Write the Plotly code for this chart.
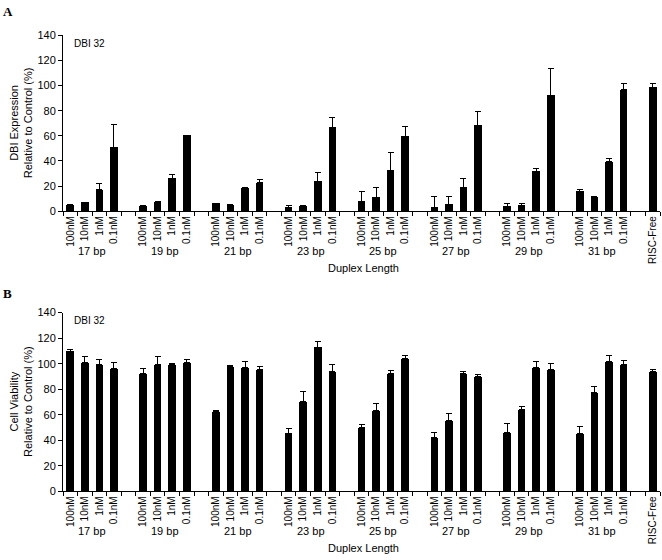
import plotly.graph_objects as go

groups = ["17 bp", "19 bp", "21 bp", "23 bp", "25 bp", "27 bp", "29 bp", "31 bp"]
concs = ["100nM", "10nM", "1nM", "0.1nM"]
control_label = "RISC-Free"

# Panel A: DBI expression (%), per group: [100nM, 10nM, 1nM, 0.1nM]
expr_vals = [
    [5, 7, 17, 51],
    [4, 7, 26, 60],
    [6, 5, 18.5, 22.5],
    [2.9, 3.7, 23.7, 66.8],
    [8.1, 10.9, 32.5, 59.8],
    [3, 5.5, 19.2, 68.3],
    [3.6, 4.4, 31.7, 92.5],
    [15.6, 10.9, 39.2, 96.6],
]
expr_err = [
    [0.3, 0.3, 5, 18],
    [0.3, 0.4, 3.5, 0.2],
    [0.3, 0.3, 0.6, 2.6],
    [1.8, 1.0, 7.0, 7.5],
    [7.3, 7.6, 14, 7.5],
    [8.7, 5.9, 6.8, 10.7],
    [2.6, 2.1, 2.3, 21.3],
    [1.4, 0.8, 2.6, 5.0],
]
expr_ctrl = 98.7
expr_ctrl_err = 2.9

# Panel B: cell viability (%)
viab_vals = [
    [109.9, 101, 99, 96],
    [92, 99.6, 99, 101],
    [62.3, 97.8, 97.3, 95.3],
    [45.7, 70.3, 113, 94],
    [49.8, 63.1, 92, 104],
    [42.2, 55.7, 92, 89.7],
    [46.2, 64.4, 97.3, 95.6],
    [45.5, 77.7, 101.7, 99.6],
]
viab_err = [
    [1.1, 4.5, 4.5, 4.7],
    [4.6, 6.4, 0.9, 2.5],
    [0.7, 0.6, 4.4, 2.5],
    [3.3, 7.7, 4, 5.6],
    [2.6, 5.4, 2.8, 2.3],
    [3.8, 5.3, 2, 1.8],
    [6.7, 1.8, 4.4, 4.6],
    [5.5, 4.1, 4.6, 3.1],
]
viab_ctrl = 94
viab_ctrl_err = 1.6

W, H = 662, 560
FONT = "Liberation Sans, Arial, sans-serif"

# slot layout: 4 bars per group + 1 empty slot; control after last gap
xs, labels = [], []
group_centers = []
slot = 0
for g in groups:
    gx = []
    for c in concs:
        xs.append(slot)
        labels.append(c)
        gx.append(slot)
        slot += 1
    group_centers.append(sum(gx) / len(gx))
    slot += 1
ctrl_x = slot
xs_all = xs + [ctrl_x]
labels_all = labels + [control_label]
nslots = ctrl_x + 1


def flat(v):
    return [a for row in v for a in row]


fig = go.Figure()

panels = [
    dict(vals=expr_vals, err=expr_err, ctrl=expr_ctrl, cerr=expr_ctrl_err,
         xa="x", ya="y", dom=[1 - 209.7 / H, 1 - 30 / H],
         ytitle=["DBI Expression", "Relative to Control (%)"], letter="A",
         letter_y=6, grp_y=250.5, dl_y=268),
    dict(vals=viab_vals, err=viab_err, ctrl=viab_ctrl, cerr=viab_ctrl_err,
         xa="x2", ya="y2", dom=[1 - 496 / H, 1 - 313.3 / H],
         ytitle=["Cell Viability", "Relative to Control (%)"], letter="B",
         letter_y=294, grp_y=537, dl_y=554),
]

xdom = [63 / W, 660 / W]

for i, p in enumerate(panels):
    yv = flat(p["vals"]) + [p["ctrl"]]
    ye = flat(p["err"]) + [p["cerr"]]
    fig.add_trace(go.Bar(
        x=xs_all, y=yv, width=0.52, marker=dict(color="black", line=dict(width=0)),
        error_y=dict(type="data", symmetric=False, array=ye,
                     arrayminus=[0] * len(ye), color="black", thickness=1, width=3),
        xaxis=p["xa"], yaxis=p["ya"], showlegend=False,
    ))
    sfx = "" if i == 0 else "2"
    fig.update_layout(**{
        "xaxis" + sfx: dict(
            domain=xdom, range=[-0.5, nslots - 0.5], anchor=p["ya"],
            tickvals=xs_all, ticktext=labels_all, tickangle=-90,
            ticks="", showline=True, linecolor="black", linewidth=1,
            tickfont=dict(family=FONT, size=10, color="black"),
            showgrid=False, zeroline=False,
            minor=dict(tick0=0.5, dtick=1, ticks="outside", ticklen=4,
                       tickcolor="black", tickwidth=1, showgrid=False),
        ),
        "yaxis" + sfx: dict(
            domain=p["dom"], range=[0, 140], anchor=p["xa"],
            tickvals=list(range(0, 141, 20)), ticks="outside", ticklen=4,
            tickcolor="black", showline=True, linecolor="black", linewidth=1,
            showgrid=False, zeroline=False,
            tickfont=dict(family=FONT, size=11, color="black"),
        ),
    })
    ann = []
    # y-axis title (two lines)
    ann.append(dict(text="<br>".join(p["ytitle"]), xref="paper", yref="paper",
                    x=21 / W, y=(p["dom"][0] + p["dom"][1]) / 2, textangle=-90,
                    showarrow=False, font=dict(family=FONT, size=11, color="black"),
                    xanchor="center", yanchor="middle"))
    # panel letter
    ann.append(dict(text="<b>" + p["letter"] + "</b>", xref="paper", yref="paper",
                    x=1 / W, y=1 - p["letter_y"] / H, showarrow=False,
                    font=dict(family="Liberation Serif, Times New Roman, serif", size=13, color="black"),
                    xanchor="left", yanchor="middle"))
    # DBI 32 label
    ann.append(dict(text="DBI 32", xref=p["xa"], yref="paper", x=0.1,
                    y=p["dom"][1] - 8 / H, showarrow=False,
                    font=dict(family=FONT, size=10, color="black"),
                    xanchor="left", yanchor="middle"))
    # group labels
    for gc, g in zip(group_centers, groups):
        ann.append(dict(text=g, xref=p["xa"], yref="paper", x=gc,
                        y=1 - p["grp_y"] / H, showarrow=False,
                        font=dict(family=FONT, size=11, color="black"),
                        xanchor="center", yanchor="middle"))
    ann.append(dict(text="Duplex Length", xref="paper", yref="paper",
                    x=363 / W, y=1 - p["dl_y"] / H, showarrow=False,
                    font=dict(family=FONT, size=11, color="black"),
                    xanchor="center", yanchor="middle"))
    for a in ann:
        fig.add_annotation(**a)

fig.update_layout(
    width=W, height=H, margin=dict(l=0, r=0, t=0, b=0),
    paper_bgcolor="white", plot_bgcolor="white", bargap=0,
)

fig.write_html(
    "out.html",
    config={"displayModeBar": False},
    post_script="document.body.style.margin='0';document.body.style.overflow='hidden';",
)
